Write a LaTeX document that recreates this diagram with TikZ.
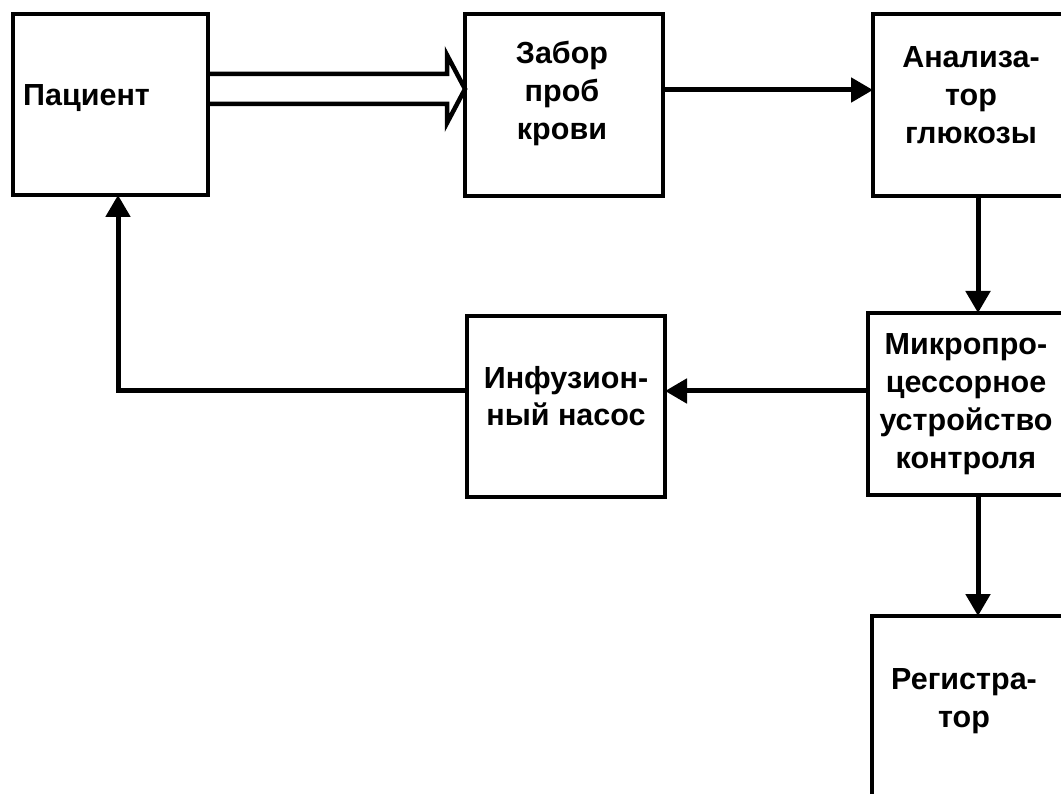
\documentclass[tikz,border=0pt]{standalone}
\usepackage{fontspec}
\setmainfont{Liberation Sans}
\usetikzlibrary{arrows.meta,calc}
\begin{document}
\begin{tikzpicture}[x=1pt,y=-1pt,
  box/.style={draw=black,line width=4.5pt,rectangle,inner sep=0pt,outer sep=0pt},
  lbl/.style={inner sep=0pt,anchor=base,align=center,font=\fontsize{30.5}{38}\selectfont\bfseries},
  arr/.style={line width=5pt,-{Triangle[length=22pt,width=24pt]}},
  hollow/.style={line width=4.5pt,miter limit=20}]
\useasboundingbox (0,0) rectangle (1061,794);
\clip (0,0) rectangle (1061,794);
\fill[white] (0,0) rectangle (1061,794);
% boxes
\node[box,minimum width=195pt,minimum height=181pt] (pat) at (110.5,104.5) {};
\node[box,minimum width=198pt,minimum height=182pt] (zab) at (564,105) {};
\node[box,minimum width=196pt,minimum height=182pt] (ana) at (971,105) {};
\node[box,minimum width=196pt,minimum height=182pt] (mic) at (966,404) {};
\node[box,minimum width=198pt,minimum height=181pt] (inf) at (566,406.5) {};
\node[box,minimum width=196pt,minimum height=200pt] (reg) at (970,716) {};
% labels (base anchor = baseline of the last line)
\node[lbl,anchor=base west] (tpat) at (23,106) {Пациент};
\node[lbl] (tzab) at (562,140) {Забор\\проб\\крови};
\node[lbl] (tana) at (971,144) {Анализа-\\тор\\глюкозы};
\node[lbl] (tmic) at (966,468) {Микропро-\\цессорное\\устройство\\контроля};
\node[lbl] (tinf) at (566,426) {Инфузион-\\ный насос};
\node[lbl] (treg) at (964,727) {Регистра-\\тор};
% hollow arrow
\coordinate (hs) at ([yshift=15.5pt]pat.east);
\coordinate (tp) at (zab.west |- hs);
\draw[hollow] ($(hs)+(0,-15)$) -- ($(tp)+(-18,-15)$) -- ($(tp)+(-18,-34)$) -- (tp)
  -- ($(tp)+(-18,34)$) -- ($(tp)+(-18,15)$) -- ($(hs)+(0,15)$);
% connectors
\draw[arr] ([yshift=15pt]zab.east) -- ([yshift=15pt]ana.west);
\draw[arr] ([xshift=7pt]ana.south) -- ([xshift=7pt]ana.south |- mic.north);
\draw[arr] ([yshift=13pt]mic.west) -- ([yshift=13pt]mic.west -| inf.east);
\draw[arr] ([xshift=12pt]mic.south) -- ([xshift=12pt]mic.south |- reg.north);
\draw[arr] ([yshift=15.5pt]inf.west) -| ([xshift=7.5pt]pat.south);
\end{tikzpicture}
\end{document}
